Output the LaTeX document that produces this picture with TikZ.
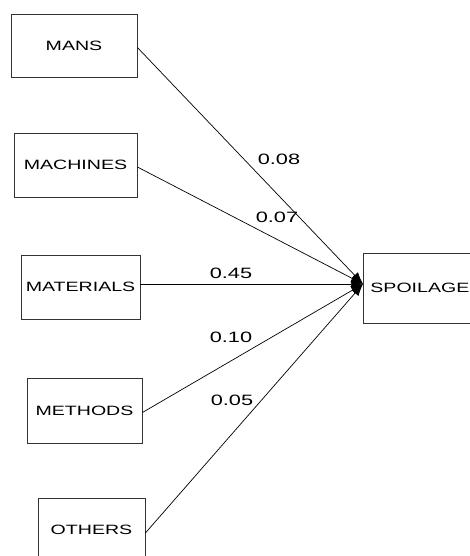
\documentclass[tikz,border=0pt]{standalone}
\usepackage{fontspec}
\newfontfamily\causefont[FakeStretch=1.45]{Liberation Sans}
\usetikzlibrary{arrows.meta, positioning}

\begin{document}
\begin{tikzpicture}[
    x=1pt, y=-1pt,
    >={Latex[length=12pt,width=9pt]},
    causebox/.style={rectangle, draw=black!80, line width=0.8pt, inner sep=0pt, font=\causefont\fontsize{13.5}{16}\selectfont},
    weight/.style={font=\causefont\fontsize{15}{18}\selectfont, inner sep=0pt},
    link/.style={->, line width=0.7pt, black},
]
    \useasboundingbox (0,0) rectangle (470,556);

    % causes
    \node[causebox, minimum width=126pt, minimum height=63pt] (mans) at (74,45.5) {MANS};
    \node[causebox, minimum width=123pt, minimum height=64pt] (machines) at (75.5,165) {MACHINES};
    \node[causebox, minimum width=119pt, minimum height=64pt] (materials) at (80.5,287) {MATERIALS};
    \node[causebox, minimum width=115pt, minimum height=65pt] (methods) at (84.5,410.5) {METHODS};
    \node[causebox, minimum width=107pt, minimum height=64pt] (others) at (91.5,530) {OTHERS};

    % effect
    \node[causebox, anchor=west, minimum height=70pt, inner xsep=7pt] (spoilage) at (363,288) {SPOILAGE};
    \coordinate (hub) at (363,284);

    \draw[link] (mans.east) ++(0,2) -- (hub);
    \draw[link] (machines.east) ++(0,2) -- (hub);
    \draw[link] (materials.east) ++(0,-3) -- (hub);
    \draw[link] (methods.east) ++(0,2) -- (hub);
    \draw[link] (others.east) ++(0,3) -- (hub);

    \node[weight] (w1) at (279,159) {0.08};
    \node[weight] (w2) at (277,217) {0.07};
    \node[weight] (w3) at (231,273) {0.45};
    \node[weight] (w4) at (231,337) {0.10};
    \node[weight] (w5) at (232,400) {0.05};
\end{tikzpicture}
\end{document}
